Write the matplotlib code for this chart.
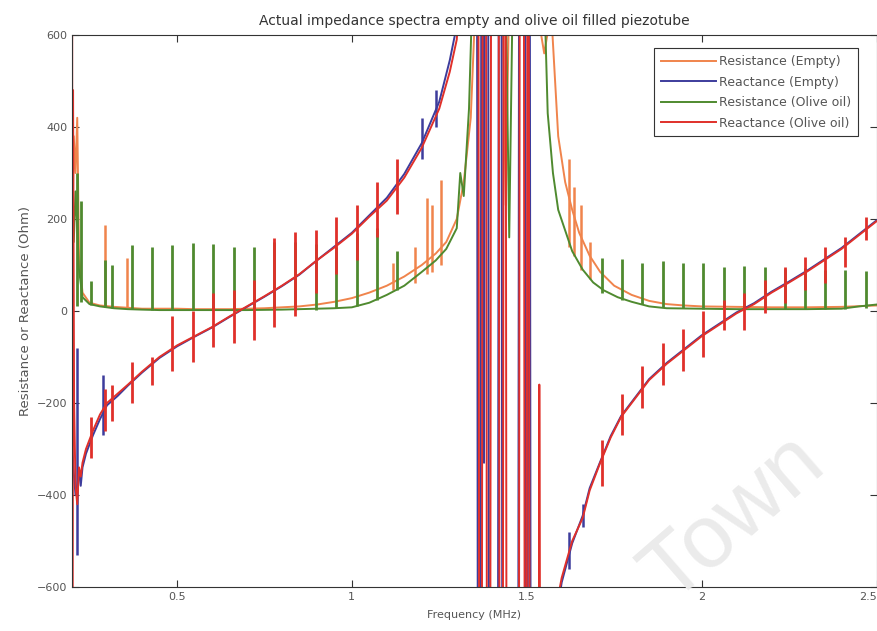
import matplotlib
matplotlib.use("Agg")
import matplotlib.pyplot as plt

# colours (MATLAB-ish, as seen in the scan)
C_R_EMPTY = "#F0844C"
C_X_EMPTY = "#3D3C9C"
C_R_OIL = "#4F8A2F"
C_X_OIL = "#E0302A"
INK = "#333333"

# ---------------------------------------------------------------- data
# Resistance (Empty)
f_r_empty = [0.201, 0.205, 0.21, 0.215, 0.22, 0.23, 0.25, 0.28, 0.32, 0.36, 0.40,
             0.45, 0.50, 0.55, 0.60, 0.65, 0.70, 0.75, 0.80, 0.85, 0.90, 0.95,
             1.00, 1.05, 1.10, 1.15, 1.20, 1.24, 1.27, 1.30, 1.32, 1.34, 1.355,
             1.43, 1.44, 1.45, 1.52, 1.55, 1.57, 1.59, 1.61, 1.63, 1.65, 1.68,
             1.71, 1.75, 1.80, 1.85, 1.90, 1.95, 2.00, 2.10, 2.20, 2.30, 2.40, 2.50]
r_empty = [150, 380, 300, 420, 120, 40, 18, 12, 9, 7, 5,
           5, 5, 4, 4, 4, 5, 6, 8, 10, 14, 20,
           28, 40, 55, 75, 100, 125, 150, 200, 280, 420, 700,
           700, 230, 700, 700, 560, 650, 380, 280, 220, 170, 120,
           85, 55, 35, 22, 15, 12, 10, 9, 8, 8, 9, 12]

# Reactance (Empty)
f_x_empty = [0.201, 0.205, 0.21, 0.215, 0.22, 0.225, 0.23, 0.24, 0.26, 0.28, 0.30,
             0.33, 0.36, 0.40, 0.45, 0.50, 0.55, 0.60, 0.65, 0.70, 0.75, 0.80,
             0.85, 0.90, 0.95, 1.00, 1.05, 1.10, 1.15, 1.20, 1.25, 1.28, 1.30,
             1.305, 1.358, 1.360, 1.368, 1.370, 1.376, 1.378, 1.380, 1.390, 1.392,
             1.418, 1.420, 1.428, 1.430, 1.476, 1.478, 1.496, 1.498, 1.503, 1.505,
             1.509, 1.511, 1.585,
             1.59, 1.60, 1.63, 1.66, 1.68, 1.71, 1.74, 1.77, 1.80, 1.85, 1.90,
             1.95, 2.00, 2.05, 2.10, 2.15, 2.20, 2.25, 2.30, 2.35, 2.40, 2.45, 2.50]
x_empty = [-300, -350, -400, -380, -350, -380, -340, -310, -270, -235, -205,
           -185, -162, -134, -102, -77, -56, -36, -13, 9, 31, 54,
           79, 110, 140, 170, 208, 246, 298, 365, 455, 545, 620,
           700, 700, -700, -700, 700, 700, -330, 700, 700, -700,
           -700, 700, 700, -700, -700, 700, 700, -700, -700, 700,
           700, -700, -700,
           -640, -590, -505, -445, -385, -328, -272, -228, -198, -148, -113,
           -83, -53, -28, -3, 17, 42, 64, 87, 112, 137, 167, 197]

# Resistance (Olive oil)
f_r_oil = [0.201, 0.205, 0.21, 0.215, 0.22, 0.23, 0.25, 0.28, 0.32, 0.36, 0.40,
           0.45, 0.50, 0.60, 0.70, 0.80, 0.90, 0.95, 1.00, 1.05, 1.10, 1.15,
           1.20, 1.24, 1.27, 1.30, 1.31, 1.32, 1.335, 1.345, 1.44, 1.45, 1.46,
           1.55, 1.56, 1.575, 1.59, 1.61, 1.63, 1.66, 1.69, 1.72, 1.76, 1.80,
           1.85, 1.90, 2.00, 2.10, 2.20, 2.30, 2.40, 2.45, 2.50]
r_oil = [200, 150, 260, 180, 90, 30, 15, 10, 6, 4, 3,
         2, 2, 2, 2, 3, 5, 6, 8, 18, 35, 55,
         85, 110, 135, 180, 300, 250, 440, 700, 700, 160, 700,
         700, 430, 300, 220, 175, 130, 90, 62, 45, 30, 20,
         10, 6, 5, 4, 4, 4, 5, 10, 14]

# Reactance (Olive oil)
f_x_oil = [0.2005, 0.201, 0.203, 0.206, 0.21, 0.215, 0.22, 0.225, 0.23, 0.24, 0.26,
           0.28, 0.30, 0.33, 0.36, 0.40, 0.45, 0.50, 0.55, 0.60, 0.65, 0.70,
           0.75, 0.80, 0.85, 0.90, 0.95, 1.00, 1.05, 1.10, 1.15, 1.20, 1.25,
           1.28, 1.30, 1.31,
           1.362, 1.364, 1.372, 1.374, 1.384, 1.386, 1.396, 1.398, 1.420, 1.422,
           1.432, 1.434, 1.440, 1.442, 1.478, 1.480, 1.492, 1.494, 1.500, 1.502,
           1.506, 1.508, 1.535, 1.536, 1.538, 1.585,
           1.59, 1.60, 1.63, 1.66, 1.68, 1.71, 1.74, 1.77, 1.80, 1.85, 1.90,
           1.95, 2.00, 2.05, 2.10, 2.15, 2.20, 2.25, 2.30, 2.35, 2.40, 2.45, 2.50]
x_oil = [700, -700, 480, -200, -380, -420, -340, -360, -330, -300, -260,
         -225, -200, -180, -160, -132, -100, -75, -55, -35, -12, 10,
         32, 55, 80, 110, 138, 168, 205, 240, 290, 355, 440,
         520, 590, 700,
         700, -700, -700, 700, 700, -700, -700, 700, 700, -700,
         -700, 700, 700, -700, -700, 700, 700, -700, -700, 700,
         700, -700, -700, -160, -700, -700,
         -620, -580, -500, -450, -390, -330, -275, -230, -200, -150, -115,
         -85, -55, -30, -5, 15, 40, 62, 85, 110, 135, 165, 195]

# narrow periodic spikes (frequency, low, high)
spk_f_r_oil = [0.215, 0.225, 0.254, 0.294, 0.314, 0.371, 0.429, 0.486, 0.546, 0.603,
               0.663, 0.720, 0.777, 0.837, 0.897, 0.954, 1.014, 1.071, 1.129, 1.714,
               1.771, 1.829, 1.889, 1.946, 2.003, 2.063, 2.120, 2.180, 2.237, 2.297,
               2.354, 2.411, 2.471]
spk_lo_r_oil = [10, 20, 12, 8, 6, 4, 3, 2, 2, 2, 2, 2, 2, 2, 3, 6, 10, 25, 45, 40,
                25, 15, 8, 6, 5, 4, 4, 4, 4, 4, 4, 4, 6]
spk_hi_r_oil = [300, 240, 65, 110, 100, 143, 140, 143, 148, 145, 140, 140, 150, 150,
                145, 140, 170, 180, 130, 115, 113, 104, 108, 104, 104, 96, 98, 96,
                92, 94, 89, 90, 88]

spk_f_r_empty = [0.294, 0.357, 1.117, 1.18, 1.215, 1.228, 1.255, 1.62, 1.635, 1.655, 1.68]
spk_lo_r_empty = [10, 8, 45, 60, 80, 85, 100, 140, 120, 90, 70]
spk_hi_r_empty = [187, 115, 105, 140, 245, 230, 285, 330, 270, 230, 150]

spk_f_x_oil = [0.254, 0.294, 0.314, 0.371, 0.429, 0.486, 0.546, 0.603, 0.663, 0.720,
               0.777, 0.837, 0.897, 0.954, 1.014, 1.071, 1.129, 1.714, 1.771, 1.829,
               1.889, 1.946, 2.003, 2.063, 2.120, 2.180, 2.237, 2.297, 2.354, 2.411,
               2.471]
spk_lo_x_oil = [-320, -260, -240, -200, -160, -130, -110, -78, -70, -63, -35, -10, 40,
                80, 110, 160, 210, -380, -270, -210, -160, -130, -100, -41, -41, -4,
                17, 46, 61, 96, 154]
spk_hi_x_oil = [-230, -170, -160, -110, -100, -10, 0, 39, 45, 67, 159, 172, 176, 204,
                230, 280, 330, -280, -180, -120, -70, -40, 0, 24, 39, 67, 96, 117,
                139, 161, 204]

spk_f_x_empty = [0.213, 0.29, 1.20, 1.24, 1.62, 1.66]
spk_lo_x_empty = [-530, -270, 330, 400, -560, -470]
spk_hi_x_empty = [-80, -140, 420, 480, -480, -420]

x_ticks = [0.5, 1, 1.5, 2, 2.5]
x_tick_labels = ["0.5", "1", "1.5", "2", "2.5"]
y_ticks = [-600, -400, -200, 0, 200, 400, 600]

# ---------------------------------------------------------------- figure
plt.rcParams["font.family"] = ["DejaVu Sans"]
fig = plt.figure(figsize=(8.77, 6.31), dpi=100)
ax = fig.add_axes([72 / 877, 44 / 631, 804.5 / 877, 552 / 631])

lw = 1.4
ax.plot(f_r_empty, r_empty, color=C_R_EMPTY, lw=lw, label="Resistance (Empty)")
ax.vlines(spk_f_r_empty, spk_lo_r_empty, spk_hi_r_empty, color=C_R_EMPTY, lw=1.8)
ax.plot(f_x_empty, x_empty, color=C_X_EMPTY, lw=lw, label="Reactance (Empty)")
ax.vlines(spk_f_x_empty, spk_lo_x_empty, spk_hi_x_empty, color=C_X_EMPTY, lw=1.8)
ax.plot(f_r_oil, r_oil, color=C_R_OIL, lw=lw, label="Resistance (Olive oil)")
ax.vlines(spk_f_r_oil, spk_lo_r_oil, spk_hi_r_oil, color=C_R_OIL, lw=2.0)
ax.plot(f_x_oil, x_oil, color=C_X_OIL, lw=lw, label="Reactance (Olive oil)")
ax.vlines(spk_f_x_oil, spk_lo_x_oil, spk_hi_x_oil, color=C_X_OIL, lw=2.0)

ax.set_xlim(0.2, 2.5)
ax.set_ylim(-600, 600)
ax.set_xticks(x_ticks)
ax.set_xticklabels(x_tick_labels)
ax.set_yticks(y_ticks)
ax.tick_params(direction="in", top=True, right=True, length=5, width=0.8,
               labelsize=8, labelcolor="#555555", color="#333333")
# last x label sits on the figure edge; keep it inside
ax.get_xticklabels()[-1].set_horizontalalignment("right")
for s in ax.spines.values():
    s.set_color("#333333")
    s.set_linewidth(0.8)

ax.set_title("Actual impedance spectra empty and olive oil filled piezotube",
             fontsize=10, color=INK, pad=7)
ax.set_xlabel("Frequency (MHz)", fontsize=8, color="#555555", labelpad=6)
ax.set_ylabel("Resistance or Reactance (Ohm)", fontsize=9.5, color="#555555", labelpad=3)

leg = ax.legend(loc="upper right", bbox_to_anchor=(0.977, 0.976), borderaxespad=0,
                fontsize=9, handlelength=4.4, handletextpad=0.25, labelspacing=0.6,
                borderpad=0.55, fancybox=False, framealpha=1)
leg.get_frame().set_edgecolor("#333333")
leg.get_frame().set_linewidth(0.8)
for t in leg.get_texts():
    t.set_color("#555555")

# scan watermark
fig.text(0.838, 0.178, "Town", fontsize=64, family="Liberation Sans",
         color="#ebebeb", rotation=41, ha="center", va="center", zorder=0)

fig.savefig("out.png", dpi=100)
